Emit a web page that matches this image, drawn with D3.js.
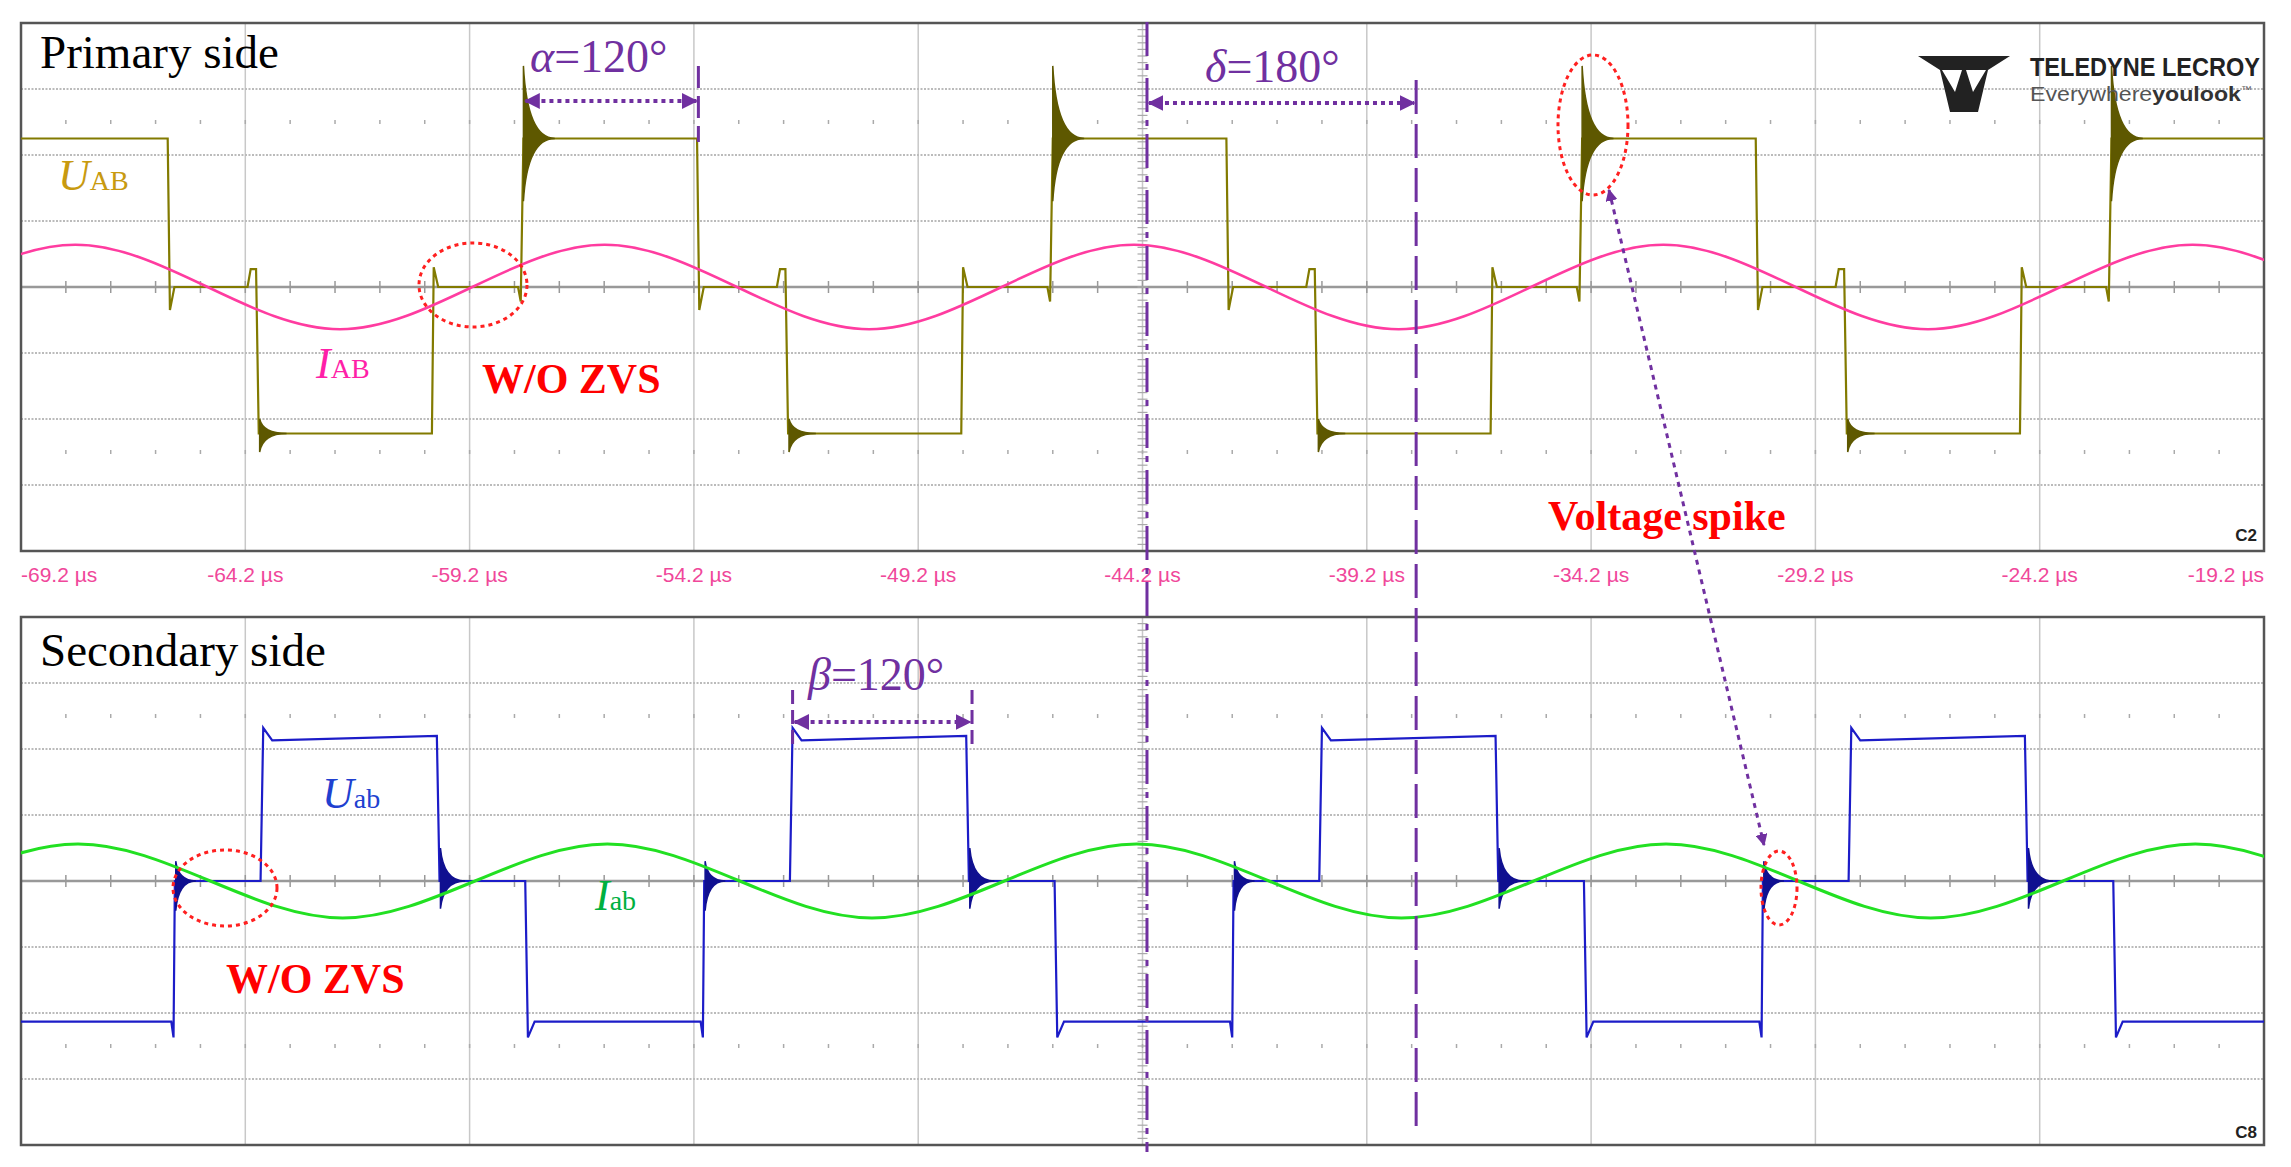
<!DOCTYPE html>
<html lang="en">
<head>
<meta charset="UTF-8">
<script src="https://d3js.org/d3.v7.min.js"></script>
<title>Primary / secondary waveforms</title>
<style>
  body { margin: 0; background: #fff; }
  text { font-family: "Liberation Serif", "DejaVu Serif", serif; }
</style>
</head>
<body>
<script>
// time axis (µs) tick labels
var tickTimes = [-69.2, -64.2, -59.2, -54.2, -49.2, -44.2, -39.2, -34.2, -29.2, -24.2, -19.2]

// primary U_AB, [time µs, divisions]
var uAB = [
  [-69.2, 2.25], [-65.93, 2.25], [-65.88, -0.35], [-65.78, 0], [-64.15, 0], [-64.08, 0.27], [-63.96, 0.27], [-63.9, -2.22],
  [-60.04, -2.22], [-60.0, 0.3], [-59.9, 0], [-58.12, 0], [-58.06, -0.22], [-58.0, 2.25],
  [-54.13, 2.25], [-54.08, -0.35], [-53.98, 0], [-52.35, 0], [-52.28, 0.27], [-52.16, 0.27], [-52.1, -2.22],
  [-48.24, -2.22], [-48.2, 0.3], [-48.1, 0], [-46.32, 0], [-46.26, -0.22], [-46.2, 2.25],
  [-42.33, 2.25], [-42.28, -0.35], [-42.18, 0], [-40.55, 0], [-40.48, 0.27], [-40.36, 0.27], [-40.3, -2.22],
  [-36.44, -2.22], [-36.4, 0.3], [-36.3, 0], [-34.52, 0], [-34.46, -0.22], [-34.4, 2.25],
  [-30.53, 2.25], [-30.48, -0.35], [-30.38, 0], [-28.75, 0], [-28.68, 0.27], [-28.56, 0.27], [-28.5, -2.22],
  [-24.64, -2.22], [-24.6, 0.3], [-24.5, 0], [-22.72, 0], [-22.66, -0.22], [-22.6, 2.25], [-19.2, 2.25]
]
// primary ringing: [edge time, level, up, down, decay µs]
var uABRing = [
  [-63.88, -2.22, 0.22, 0.28, 0.6], [-58.0, 2.25, 1.1, 0.95, 0.7], [-52.08, -2.22, 0.22, 0.28, 0.6],
  [-46.2, 2.25, 1.1, 0.95, 0.7], [-40.28, -2.22, 0.22, 0.28, 0.6], [-34.4, 2.25, 1.1, 0.95, 0.7],
  [-28.48, -2.22, 0.22, 0.28, 0.6], [-22.6, 2.25, 1.1, 0.95, 0.7]
]
// primary I_AB read at peaks and zero crossings
var iAB = [
  [-70.94, 0], [-67.99, 0.64], [-65.04, 0], [-62.09, -0.64], [-59.14, 0], [-56.19, 0.64], [-53.24, 0],
  [-50.29, -0.64], [-47.34, 0], [-44.39, 0.64], [-41.44, 0], [-38.49, -0.64], [-35.54, 0], [-32.59, 0.64],
  [-29.64, 0], [-26.69, -0.64], [-23.74, 0], [-20.79, 0.64], [-17.84, 0]
]

// secondary U_ab
var uab = [
  [-69.2, -2.13], [-65.85, -2.13], [-65.8, -2.37], [-65.77, 0], [-63.86, 0], [-63.8, 2.32], [-63.6, 2.13],
  [-59.93, 2.2], [-59.87, 0], [-57.96, 0], [-57.9, -2.37], [-57.75, -2.13],
  [-54.05, -2.13], [-54.0, -2.37], [-53.97, 0], [-52.06, 0], [-52.0, 2.32], [-51.8, 2.13],
  [-48.13, 2.2], [-48.07, 0], [-46.16, 0], [-46.1, -2.37], [-45.95, -2.13],
  [-42.25, -2.13], [-42.2, -2.37], [-42.17, 0], [-40.26, 0], [-40.2, 2.32], [-40.0, 2.13],
  [-36.33, 2.2], [-36.27, 0], [-34.36, 0], [-34.3, -2.37], [-34.15, -2.13],
  [-30.45, -2.13], [-30.4, -2.37], [-30.37, 0], [-28.46, 0], [-28.4, 2.32], [-28.2, 2.13],
  [-24.53, 2.2], [-24.47, 0], [-22.56, 0], [-22.5, -2.37], [-22.35, -2.13], [-19.2, -2.13]
]
var uabRing = [
  [-65.75, 0, 0.3, 0.45, 0.45], [-59.85, 0, 0.5, 0.42, 0.55], [-53.95, 0, 0.3, 0.45, 0.45],
  [-48.05, 0, 0.5, 0.42, 0.55], [-42.15, 0, 0.3, 0.45, 0.45], [-36.25, 0, 0.5, 0.42, 0.55],
  [-30.35, 0, 0.3, 0.45, 0.45], [-24.45, 0, 0.5, 0.42, 0.55]
]
var iab = [
  [-70.88, 0], [-67.93, 0.56], [-64.98, 0], [-62.03, -0.56], [-59.08, 0], [-56.13, 0.56], [-53.18, 0],
  [-50.23, -0.56], [-47.28, 0], [-44.33, 0.56], [-41.38, 0], [-38.43, -0.56], [-35.48, 0], [-32.53, 0.56],
  [-29.58, 0], [-26.63, -0.56], [-23.68, 0], [-20.73, 0.56], [-17.78, 0]
]

var width = 2291, height = 1167
var purple = "#7030a0"
var svg = d3.select("body").append("svg").attr("width", width).attr("height", height)

var defs = svg.append("defs")
defs.append("marker").attr("id", "tri").attr("viewBox", "0 0 10 10")
    .attr("refX", 9).attr("refY", 5).attr("markerWidth", 4).attr("markerHeight", 4)
    .attr("orient", "auto-start-reverse")
    .append("path").attr("d", "M0,0L10,5L0,10z").attr("fill", purple)

var x = d3.scaleLinear().domain([-69.2, -19.2]).range([21, 2264])
var yTop = d3.scaleLinear().domain([-4, 4]).range([551, 23])
var yBot = d3.scaleLinear().domain([-4, 4]).range([1145, 617])

function drawGrid(y, clipId) {
    var g = svg.append("g")
    defs.append("clipPath").attr("id", clipId).append("rect")
        .attr("x", x(-69.2)).attr("y", y(4)).attr("width", x(-19.2) - x(-69.2)).attr("height", y(-4) - y(4))
    var vt = d3.range(0, 11).map(function (i) { return -69.2 + i * 5 })
    g.selectAll(".v").data(vt).enter().append("line")
        .attr("x1", function (d) { return x(d) }).attr("x2", function (d) { return x(d) })
        .attr("y1", y(4)).attr("y2", y(-4)).attr("stroke", "#c8c8c8").attr("stroke-width", 1.5)
    g.selectAll(".h").data(d3.range(-3, 4)).enter().append("line")
        .attr("x1", x(-69.2)).attr("x2", x(-19.2))
        .attr("y1", function (d) { return y(d) }).attr("y2", function (d) { return y(d) })
        .attr("stroke", function (d) { return d == 0 ? "#999" : "#bbb" })
        .attr("stroke-width", function (d) { return d == 0 ? 2.5 : 2 })
        .attr("stroke-dasharray", function (d) { return d == 0 ? null : "2,1.5" })
    // minor ticks
    var minor = d3.range(0, 51).map(function (i) { return -69.2 + i })
    g.selectAll(".m").data(minor).enter().append("line")
        .attr("x1", function (d) { return x(d) }).attr("x2", function (d) { return x(d) })
        .attr("y1", y(0) - 6).attr("y2", y(0) + 6).attr("stroke", "#999").attr("stroke-width", 1.5)
    ;[2.5, -2.5].forEach(function (lv) {
        g.selectAll(null).data(minor).enter().append("line")
            .attr("x1", function (d) { return x(d) }).attr("x2", function (d) { return x(d) })
            .attr("y1", y(lv) - 2).attr("y2", y(lv) + 2).attr("stroke", "#aaa").attr("stroke-width", 1.5)
    })
    g.selectAll(".mv").data(d3.range(-40, 41).map(function (i) { return i / 10 })).enter().append("line")
        .attr("x1", x(-44.2) - 5).attr("x2", x(-44.2) + 5)
        .attr("y1", function (d) { return y(d) }).attr("y2", function (d) { return y(d) })
        .attr("stroke", "#aaa").attr("stroke-width", 1.2)
    g.append("rect").attr("x", x(-69.2)).attr("y", y(4)).attr("width", x(-19.2) - x(-69.2))
        .attr("height", y(-4) - y(4)).attr("fill", "none").attr("stroke", "#555").attr("stroke-width", 2.5)
}

function drawWave(y, data, color, width, clipId, curve) {
    var line = d3.line().x(function (d) { return x(d[0]) }).y(function (d) { return y(d[1]) })
        .curve(curve || d3.curveLinear)
    svg.append("path").datum(data).attr("d", line).attr("fill", "none")
        .attr("stroke", color).attr("stroke-width", width).attr("clip-path", "url(#" + clipId + ")")
}

// ringing drawn as a thin decaying envelope
function drawRing(y, data, color, clipId) {
    svg.append("g").attr("clip-path", "url(#" + clipId + ")")
        .selectAll("path").data(data).enter().append("path")
        .attr("d", function (d) {
            var x0 = x(d[0]), x1 = x(d[0] + d[4]), yl = y(d[1])
            var xa = x0 + (x1 - x0) * 0.12
            return "M" + x0 + "," + y(d[1] + d[2]) +
                "Q" + xa + "," + yl + " " + x1 + "," + yl +
                "Q" + xa + "," + yl + " " + x0 + "," + y(d[1] - d[3]) + "Z"
        })
        .attr("fill", color).attr("stroke", color).attr("stroke-width", 1.5)
}

drawGrid(yTop, "clipTop")
drawGrid(yBot, "clipBot")

drawWave(yTop, uAB, "#827a00", 2.2, "clipTop")
drawRing(yTop, uABRing, "#5e5800", "clipTop")
drawWave(yTop, iAB, "#ff3ca0", 2.5, "clipTop", d3.curveNatural)

drawWave(yBot, uab, "#1c1cc8", 2.2, "clipBot")
drawRing(yBot, uabRing, "#101090", "clipBot")
drawWave(yBot, iab, "#22e022", 3, "clipBot", d3.curveNatural)

// tick labels
svg.selectAll(".tl").data(tickTimes).enter().append("text")
    .attr("x", function (d) { return x(d) }).attr("y", 582)
    .attr("text-anchor", function (d, i) { return i == 0 ? "start" : (i == tickTimes.length - 1 ? "end" : "middle") })
    .style("font-family", "'Liberation Sans Narrow', 'Liberation Sans', Arial, sans-serif")
    .attr("font-size", 21).attr("fill", "#f0479a")
    .text(function (d) { return d + " µs" })

// channel tags
;[[541, "C2"], [1138, "C8"]].forEach(function (c) {
    svg.append("text").attr("x", 2257).attr("y", c[0]).attr("text-anchor", "end")
        .style("font-family", "'Liberation Sans Narrow', Arial, sans-serif").attr("font-weight", "bold")
        .attr("font-size", 17).attr("fill", "#222").text(c[1])
})

// titles
svg.append("text").attr("x", 40).attr("y", 68).attr("font-size", 47).attr("fill", "#000").text("Primary side")
svg.append("text").attr("x", 40).attr("y", 666).attr("font-size", 47).attr("fill", "#000").text("Secondary side")

// signal labels
function sigLabel(px, py, main, sub, color) {
    var t = svg.append("text").attr("x", px).attr("y", py).attr("fill", color).attr("font-size", 44)
    t.append("tspan").attr("font-style", "italic").text(main)
    t.append("tspan").attr("font-size", 28).text(sub)
}
sigLabel(58, 190, "U", "AB", "#c89a10")
sigLabel(316, 378, "I", "AB", "#ff1fa8")
sigLabel(322, 808, "U", "ab", "#2040d0")
sigLabel(595, 910, "I", "ab", "#00b040")

// red notes
function redText(px, py, s) {
    svg.append("text").attr("x", px).attr("y", py).attr("font-size", 42).attr("font-weight", "bold")
        .attr("fill", "#ff0000").text(s)
}
redText(482, 393, "W/O ZVS")
redText(226, 993, "W/O ZVS")
redText(1548, 530, "Voltage spike")

function ell(cx, cy, rx, ry) {
    svg.append("ellipse").attr("cx", cx).attr("cy", cy).attr("rx", rx).attr("ry", ry)
        .attr("fill", "none").attr("stroke", "#ff2020").attr("stroke-width", 3).attr("stroke-dasharray", "4,4")
}
ell(473, 285, 54, 42)
ell(1593, 125, 35, 70)
ell(225, 888, 52, 38)
ell(1779, 888, 18, 37)

// phase annotations
function phase(x1, x2, ly, tx, ty, greek) {
    svg.append("line").attr("x1", x(x1) + 2).attr("x2", x(x2) - 2).attr("y1", ly).attr("y2", ly)
        .attr("stroke", purple).attr("stroke-width", 4).attr("stroke-dasharray", "4,4")
        .attr("marker-start", "url(#tri)").attr("marker-end", "url(#tri)")
    var t = svg.append("text").attr("x", tx).attr("y", ty).attr("font-size", 46).attr("fill", purple)
    t.append("tspan").attr("font-style", "italic").text(greek)
    t.append("tspan").text("=" + (greek == "δ" ? "180°" : "120°"))
}
phase(-58.0, -54.1, 101, 530, 72, "α")
phase(-44.1, -38.1, 103, 1205, 82, "δ")
phase(-52.0, -48.0, 722, 808, 690, "β")

function vdash(t, y1, y2, dash) {
    svg.append("line").attr("x1", x(t)).attr("x2", x(t)).attr("y1", y1).attr("y2", y2)
        .attr("stroke", purple).attr("stroke-width", 3).attr("stroke-dasharray", dash)
}
vdash(-54.1, 66, 142, "22,8")
vdash(-44.1, 22, 1152, "34,8,6,8")
vdash(-38.1, 80, 1130, "34,10")
vdash(-52.0, 690, 745, "14,6")
vdash(-48.0, 690, 745, "14,6")

// spike arrow
svg.append("line").attr("x1", 1609).attr("y1", 190).attr("x2", 1764).attr("y2", 845)
    .attr("stroke", purple).attr("stroke-width", 3).attr("stroke-dasharray", "5,5")
    .attr("marker-start", "url(#tri)").attr("marker-end", "url(#tri)")

// logo
var logo = svg.append("g")
logo.append("path").attr("d", "M1918,56L2010,56L1988,70L1978,112L1950,112L1940,70Z").attr("fill", "#222")
logo.append("path").attr("d", "M1942,70L1962,70L1955,92Z M1966,70L1986,70L1973,92Z").attr("fill", "#fff")
logo.append("text").attr("x", 2030).attr("y", 76).attr("textLength", 230).attr("lengthAdjust", "spacingAndGlyphs")
    .style("font-family", "'Liberation Sans', Arial, sans-serif").attr("font-weight", "bold")
    .attr("font-size", 25).attr("fill", "#222").text("TELEDYNE LECROY")
var ev = logo.append("text").attr("x", 2030).attr("y", 101).attr("textLength", 222).attr("lengthAdjust", "spacingAndGlyphs")
    .style("font-family", "'Liberation Sans', Arial, sans-serif").attr("font-size", 21).attr("fill", "#555")
ev.append("tspan").text("Everywhere")
ev.append("tspan").attr("font-weight", "bold").attr("fill", "#333").text("youlook")
ev.append("tspan").attr("font-size", 10).attr("dy", -8).text("™")
</script>
</body>
</html>
